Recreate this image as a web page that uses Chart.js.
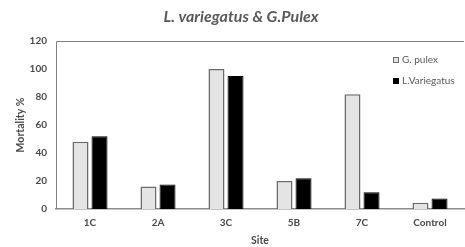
<!DOCTYPE html>
<html>
<head>
<meta charset="utf-8">
<script src="https://cdn.jsdelivr.net/npm/chart.js@4.4.1/dist/chart.umd.min.js"></script>
<style>
    html, body { margin: 0; padding: 0; background: #fff; }
    #wrap { width: 465px; height: 247px; position: relative; }
</style>
</head>
<body>
<div id="wrap"><canvas id="chart"></canvas></div>
<script>
// Data
const sites = ['1C', '2A', '3C', '5B', '7C', 'Control'];
const gPulex = [48, 16, 100, 20, 82, 4.5];
const lVariegatus = [52, 17.5, 95, 22, 12, 7.5];
const yTicks = [0, 20, 40, 60, 80, 100, 120];

const FONT = 'Lato, "Open Sans", sans-serif';
const TEXT = '#4a4a4a';

// Title, frame and legend drawn on the canvas
const decorations = {
    id: 'decorations',
    afterDraw(chart) {
        const { ctx, chartArea: a } = chart;
        ctx.save();

        // title
        ctx.font = 'italic bold 16px ' + FONT;
        ctx.fillStyle = '#595959';
        ctx.textAlign = 'center';
        ctx.textBaseline = 'middle';
        ctx.fillText('L. variegatus & G.Pulex', 241, 17);

        // top and left frame lines
        ctx.strokeStyle = '#7f7f7f';
        ctx.lineWidth = 1;
        ctx.beginPath();
        ctx.moveTo(a.left + 0.5, a.bottom);
        ctx.lineTo(a.left + 0.5, a.top + 0.5);
        ctx.lineTo(a.right, a.top + 0.5);
        ctx.stroke();

        // legend
        ctx.font = '10px ' + FONT;
        ctx.textAlign = 'left';
        chart.data.datasets.forEach((ds, i) => {
            const y = 60 + i * 21;
            const x = 393;
            ctx.fillStyle = ds.backgroundColor;
            ctx.fillRect(x, y - 3, 6, 6);
            ctx.strokeStyle = ds.borderColor;
            ctx.lineWidth = 1;
            ctx.strokeRect(x + 0.5, y - 2.5, 5, 5);
            ctx.fillStyle = '#595959';
            ctx.fillText(ds.label, x + 9, y);
        });
        ctx.restore();
    }
};

new Chart(document.getElementById('chart'), {
    type: 'bar',
    data: {
        labels: sites,
        datasets: [
            {
                label: 'G. pulex',
                data: gPulex,
                backgroundColor: '#e4e4e4',
                borderColor: '#6b6b6b',
                borderWidth: 1.5,
                barPercentage: 0.84,
                categoryPercentage: 0.56
            },
            {
                label: 'L.Variegatus',
                data: lVariegatus,
                backgroundColor: '#000000',
                borderColor: '#000000',
                borderWidth: 1,
                barPercentage: 0.84,
                categoryPercentage: 0.56
            }
        ]
    },
    options: {
        responsive: true,
        maintainAspectRatio: false,
        animation: false,
        layout: { padding: { top: 41, right: 1, left: 0, bottom: 0 } },
        plugins: {
            legend: { display: false },
            title: { display: false },
            tooltip: { enabled: false }
        },
        scales: {
            x: {
                grid: { display: false, drawTicks: false },
                border: { color: '#8c8c8c', width: 1.5 },
                ticks: {
                    color: TEXT,
                    font: { family: FONT, size: 10, weight: 'bold' },
                    padding: 8
                },
                title: {
                    display: true,
                    text: 'Site',
                    color: TEXT,
                    font: { family: FONT, size: 10.5, weight: 'bold' },
                    padding: { top: 4, bottom: 0 }
                },
                afterFit(scale) { scale.height = 38; }
            },
            y: {
                min: 0,
                max: 120,
                grid: { display: false, drawTicks: false },
                border: { display: false },
                afterBuildTicks(scale) { scale.ticks = yTicks.map(v => ({ value: v })); },
                ticks: {
                    color: TEXT,
                    font: { family: FONT, size: 10, weight: 'bold' },
                    padding: 9
                },
                title: {
                    display: true,
                    text: 'Mortality %',
                    color: TEXT,
                    font: { family: FONT, size: 10.5, weight: 'bold' },
                    padding: { top: 14, bottom: 4 }
                },
                afterFit(scale) { scale.width = 56; }
            }
        }
    },
    plugins: [decorations]
});
</script>
</body>
</html>
